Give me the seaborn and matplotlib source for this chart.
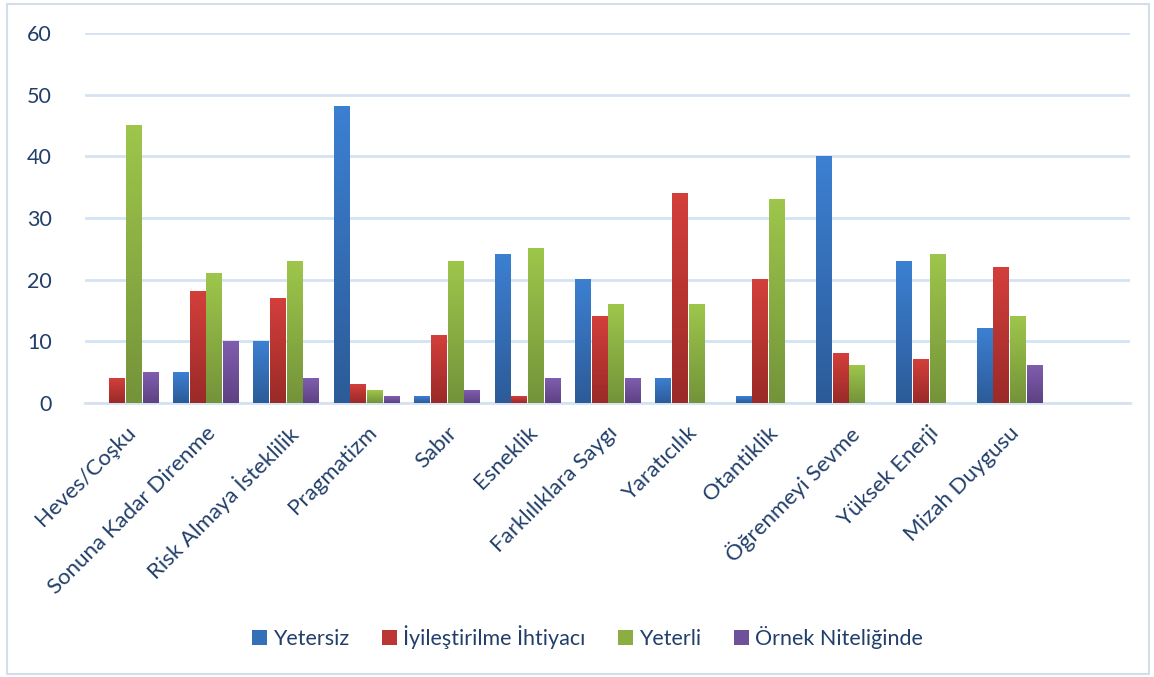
import numpy as np
import pandas as pd
import matplotlib
matplotlib.use("Agg")
import matplotlib.pyplot as plt
from matplotlib.colors import LinearSegmentedColormap
from matplotlib.patches import Patch, Rectangle
import seaborn as sns

# Data
categories = ["Heves/Coşku", "Sonuna Kadar Direnme", "Risk Almaya İsteklilik",
              "Pragmatizm", "Sabır", "Esneklik", "Farklılıklara Saygı",
              "Yaratıcılık", "Otantiklik", "Öğrenmeyi Sevme", "Yüksek Enerji",
              "Mizah Duygusu"]
series = ["Yetersiz", "İyileştirilme İhtiyacı", "Yeterli", "Örnek Niteliğinde"]
yetersiz = [0, 5, 10, 48, 1, 24, 20, 4, 1, 40, 23, 12]
iyilestirilme = [4, 18, 17, 3, 11, 1, 14, 34, 20, 8, 7, 22]
yeterli = [45, 21, 23, 2, 23, 25, 16, 16, 33, 6, 24, 14]
ornek = [5, 10, 4, 1, 2, 4, 4, 0, 0, 0, 0, 6]

values = [yetersiz, iyilestirilme, yeterli, ornek]
df = pd.DataFrame({
    "kategori": np.repeat([categories], len(series), axis=0).ravel(),
    "seri": np.repeat(series, len(categories)),
    "deger": np.concatenate(values),
})

# top / bottom colours of the gradient bars
top_cols = ["#3C80D2", "#D33F3B", "#9EC64B", "#805DAE"]
bot_cols = ["#2C5B98", "#9A2A28", "#74933A", "#5D4283"]
mid_cols = ["#3470B8", "#BC3633", "#8BAE43", "#6F519A"]
text_col = "#213F6A"
grid_col = "#D5E2F2"

sns.set_theme(style="white")
plt.rcParams["font.family"] = ["Lato", "DejaVu Sans"]

fig = plt.figure(figsize=(11.54, 6.77), dpi=100)
ax = fig.add_axes([0.0737, 0.4047, 0.9053, 0.5466])

sns.barplot(data=df, x="kategori", y="deger", hue="seri", order=categories,
            hue_order=series, palette=mid_cols, width=0.83, gap=0.1,
            legend=False, ax=ax, errorbar=None, zorder=3)

# replace flat fills with vertical gradients
grad = np.linspace(0, 1, 256).reshape(-1, 1)
bars = [p for p in ax.patches if isinstance(p, Rectangle)]
for i, p in enumerate(bars):
    k = i // len(categories)
    cmap = LinearSegmentedColormap.from_list("g", [bot_cols[k], top_cols[k]])
    x0, y0 = p.get_x(), p.get_y()
    w, h = p.get_width(), p.get_height()
    p.set_facecolor("none")
    p.set_edgecolor("none")
    if h <= 0:
        continue
    ax.imshow(grad, cmap=cmap, origin="lower", aspect="auto",
              extent=[x0, x0 + w, y0, y0 + h], zorder=3)

ax.set_xlim(-0.5, 12.5)
ax.set_ylim(0, 60)
ax.set_yticks(range(0, 61, 10))
ax.yaxis.grid(True, color=grid_col, lw=2)
ax.set_axisbelow(True)
for s in ["top", "right", "left"]:
    ax.spines[s].set_visible(False)
ax.spines["bottom"].set_color(grid_col)
ax.spines["bottom"].set_linewidth(2)
ax.set_xlabel("")
ax.set_ylabel("")
ax.tick_params(axis="y", length=0, pad=24, labelsize=15.5, labelcolor=text_col)
ax.tick_params(axis="x", length=0, pad=14, labelsize=16, labelcolor=text_col)
ax.set_xticks(range(len(categories)))
ax.set_xticklabels(categories, rotation=45, ha="right", rotation_mode="anchor")

handles = [Patch(facecolor=c, edgecolor="none") for c in mid_cols]
fig.legend(handles, series, loc="center", bbox_to_anchor=(0.509, 0.059),
           ncol=4, frameon=False, fontsize=15.5, handlelength=0.7,
           handleheight=0.7, handletextpad=0.3, columnspacing=1.5,
           labelcolor=text_col)

# light frame around the chart area
fig.patches.append(Rectangle((0.006, 0.004), 0.99, 0.99, transform=fig.transFigure,
                             fill=False, edgecolor="#D3DEEC", lw=1.5))

fig.savefig("out.png", dpi=100)
